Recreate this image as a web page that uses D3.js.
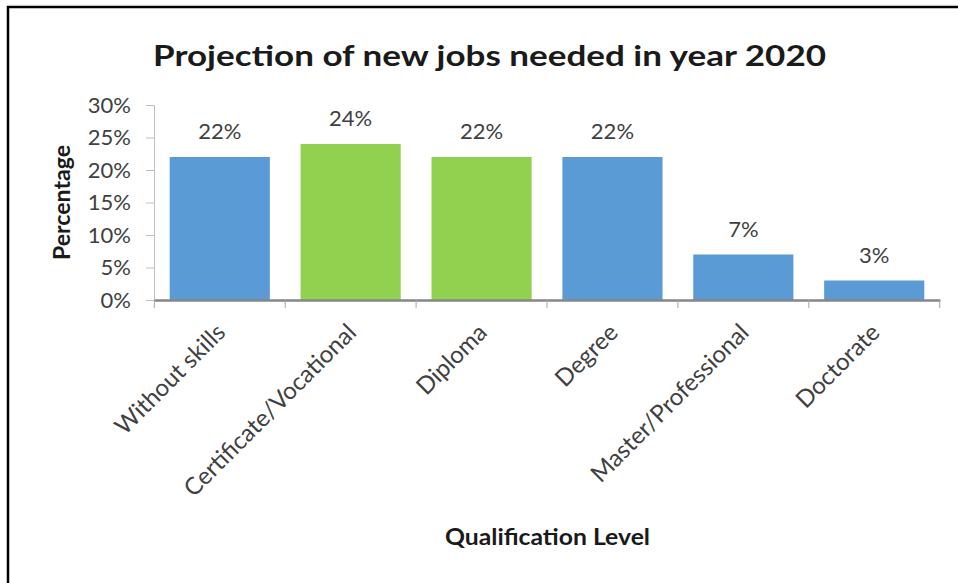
<!DOCTYPE html>
<html lang="en">
<head>
    <meta charset="UTF-8">
    <title>Projection of new jobs needed in year 2020</title>
    <style>
        body { margin: 0; background: #fff; }
        svg { display: block; font-family: Lato, "Open Sans", sans-serif; }
    </style>
</head>
<body>
    <div id="chart"></div>

    <script src="https://d3js.org/d3.v7.min.js"></script>
    <script>
        var categories = ["Without skills", "Certificate/Vocational", "Diploma", "Degree", "Master/Professional", "Doctorate"];
        var values = [22, 24, 22, 22, 7, 3];
        var barColors = ["#5b9bd5", "#92d050", "#92d050", "#5b9bd5", "#5b9bd5", "#5b9bd5"];
        var yTicks = [0, 5, 10, 15, 20, 25, 30];

        var W = 958, H = 583;
        var margin = { top: 105, right: 18, bottom: 283, left: 154 };
        var width = W - margin.left - margin.right;
        var height = H - margin.top - margin.bottom;

        var svg = d3.select("#chart")
            .append("svg")
                .attr("width", W)
                .attr("height", H);

        // frame of the figure box
        svg.append("path")
            .attr("d", "M8," + H + " V7 H" + W)
            .style("fill", "none")
            .style("stroke", "#000")
            .style("stroke-width", 2.5);

        var g = svg.append("g")
            .attr("transform", "translate(" + margin.left + "," + margin.top + ")");

        var xScale = d3.scaleBand()
            .domain(categories)
            .range([0, width])
            .paddingInner(0.235)
            .paddingOuter(0.12);

        var yScale = d3.scaleLinear()
            .domain([0, 30])
            .range([height, 0]);

        // bars
        g.selectAll("rect.bar")
            .data(values)
            .enter()
            .append("rect")
                .attr("class", "bar")
                .attr("x", function(d, i){ return xScale(categories[i]); })
                .attr("y", function(d){ return yScale(d); })
                .attr("width", xScale.bandwidth())
                .attr("height", function(d){ return height - yScale(d); })
                .style("fill", function(d, i){ return barColors[i]; });

        // value labels
        g.selectAll("text.val")
            .data(values)
            .enter()
            .append("text")
                .attr("class", "val")
                .attr("x", function(d, i){ return xScale(categories[i]) + xScale.bandwidth() / 2; })
                .attr("y", function(d){ return yScale(d) - 18; })
                .attr("text-anchor", "middle")
                .style("font-size", "22px")
                .style("fill", "#404040")
                .text(function(d){ return d + "%"; });

        // Y axis
        var yAxis = d3.axisLeft(yScale)
            .tickValues(yTicks)
            .tickFormat(function(d){ return d + "%"; })
            .tickSize(8)
            .tickSizeOuter(8)
            .tickPadding(15);

        var yGuide = g.append("g").call(yAxis);
        yGuide.select(".domain").style("stroke", "#bfbfbf");
        yGuide.selectAll("line").style("stroke", "#bfbfbf");
        yGuide.selectAll("text")
            .style("font-size", "22px")
            .style("font-family", "Lato, sans-serif")
            .style("fill", "#404040");

        // X axis
        var xAxis = d3.axisBottom(xScale)
            .tickSize(0)
            .tickSizeOuter(0)
            .tickFormat("");

        var xGuide = g.append("g")
            .attr("transform", "translate(0," + height + ")")
            .call(xAxis);
        xGuide.select(".domain").style("stroke", "#868686").style("stroke-width", 2.5);

        // category boundary ticks
        var bounds = d3.range(0, categories.length + 1);
        var start = xScale(categories[0]) - xScale.step() * xScale.paddingInner() / 2;
        g.selectAll("line.xtick")
            .data(bounds)
            .enter()
            .append("line")
                .attr("class", "xtick")
                .attr("x1", function(d){ return start + d * xScale.step(); })
                .attr("x2", function(d){ return start + d * xScale.step(); })
                .attr("y1", height)
                .attr("y2", height + 8)
                .style("stroke", "#a6a6a6");

        // category labels
        g.selectAll("text.cat")
            .data(categories)
            .enter()
            .append("text")
                .attr("class", "cat")
                .attr("text-anchor", "end")
                .attr("transform", function(d){
                    var cx = xScale(d) + xScale.bandwidth() / 2 + 7;
                    return "translate(" + cx + "," + (height + 34) + ") rotate(-45)";
                })
                .style("font-size", "24px")
                .style("fill", "#404040")
                .text(function(d){ return d; });

        // title
        svg.append("text")
            .attr("x", 153)
            .attr("y", 66)
            .attr("textLength", 673)
            .attr("lengthAdjust", "spacingAndGlyphs")
            .style("font-size", "29px")
            .style("font-weight", "bold")
            .style("fill", "#1a1a1a")
            .text("Projection of new jobs needed in year 2020");

        // axis titles
        svg.append("text")
            .attr("transform", "translate(70," + (margin.top + height / 2) + ") rotate(-90)")
            .attr("text-anchor", "middle")
            .attr("textLength", 115)
            .attr("lengthAdjust", "spacingAndGlyphs")
            .style("font-size", "22px")
            .style("font-weight", "bold")
            .style("fill", "#1a1a1a")
            .text("Percentage");

        svg.append("text")
            .attr("x", 445)
            .attr("y", 545)
            .attr("textLength", 205)
            .attr("lengthAdjust", "spacingAndGlyphs")
            .style("font-size", "23px")
            .style("font-weight", "bold")
            .style("fill", "#1a1a1a")
            .text("Qualification Level");
    </script>
</body>
</html>
